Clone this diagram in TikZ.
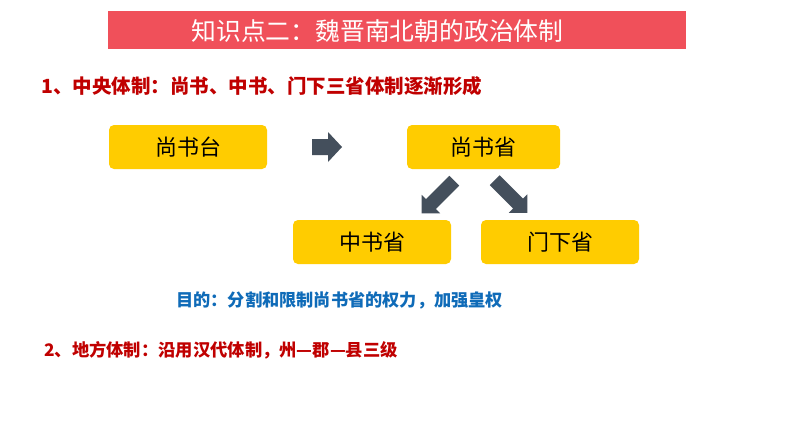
\documentclass[tikz,border=0pt]{standalone}
\usepackage{fontspec}
\newfontfamily\cjk{Noto Sans CJK SC}
\definecolor{barred}{HTML}{F0505A}
\definecolor{boxyel}{HTML}{FFCC00}
\definecolor{arrowc}{HTML}{444F5C}
\definecolor{darkred}{HTML}{C00000}
\definecolor{textblue}{HTML}{0F6BB8}
\tikzset{
  ybox/.style={fill=boxyel, rounded corners=5pt, minimum width=158pt, minimum height=44pt, inner sep=0pt, text=black, font=\cjk\fontsize{22}{22}\selectfont},
  blk/.style={fill=arrowc},
}
\begin{document}
\begin{tikzpicture}[x=1pt,y=-1pt]
\useasboundingbox (0,0) rectangle (794,447);
\fill[white] (0,0) rectangle (794,447);
% title bar
\node[fill=barred, minimum width=578pt, minimum height=38pt, inner sep=0pt, anchor=north west] (bar) at (108,11) {};
\node[text=white, font=\cjk\fontsize{24.8}{25}\selectfont, inner sep=0pt] (title) at (377.5,31) {知识点二：魏晋南北朝的政治体制};
% line 1
\node[anchor=west, text=darkred, font=\cjk\bfseries\fontsize{19.5}{20}\selectfont, inner sep=0pt] (l1) at (41,86) {1、中央体制：尚书、中书、门下三省体制逐渐形成};
% boxes
\node[ybox] (sst) at (188,147) {尚书台};
\node[ybox, minimum width=153pt] (ssx) at (483.5,147) {尚书省};
\node[ybox] (zsx) at (372,242) {中书省};
\node[ybox] (mxx) at (560,242) {门下省};
% block arrows
\begin{scope}[shift={(327,147)}]
\fill[blk] (-15,-8) -- (1,-8) -- (1,-15) -- (15,0) -- (1,15) -- (1,8) -- (-15,8) -- cycle;
\end{scope}
\begin{scope}[shift={(438,197)}, rotate=225]
\fill[blk] (-23,-7) -- (10,-7) -- (10,-13) -- (23,0) -- (10,13) -- (10,7) -- (-23,7) -- cycle;
\end{scope}
\begin{scope}[shift={(511,196.5)}, rotate=-45]
\fill[blk] (-23,-7) -- (10,-7) -- (10,-13) -- (23,0) -- (10,13) -- (10,7) -- (-23,7) -- cycle;
\end{scope}
% blue text
\node[anchor=west, text=textblue, font=\cjk\bfseries\fontsize{17.2}{18}\selectfont, inner sep=0pt] (goal) at (176,300.5) {目的：分割和限制尚书省的权力，加强皇权};
% line 2
\node[anchor=west, text=darkred, font=\cjk\bfseries\fontsize{17.3}{18}\selectfont, inner sep=0pt] (l2) at (44,350) {2、地方体制：沿用汉代体制，州—郡—县三级};
\end{tikzpicture}
\end{document}
